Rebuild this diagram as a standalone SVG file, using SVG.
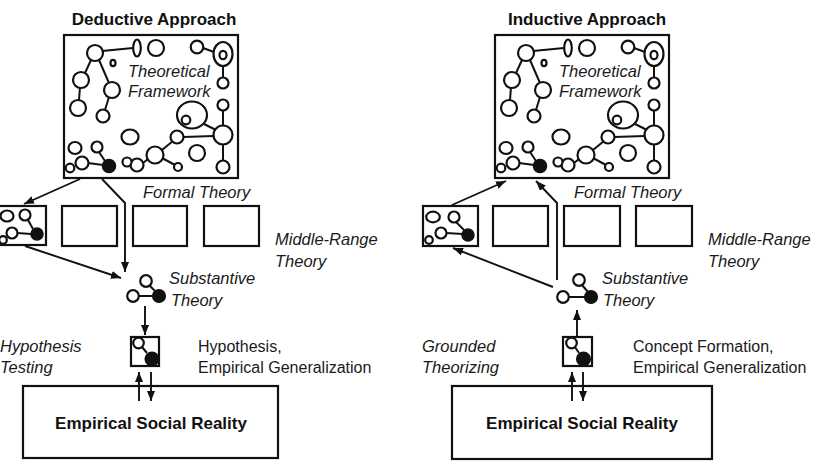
<svg xmlns="http://www.w3.org/2000/svg" xmlns:xlink="http://www.w3.org/1999/xlink" width="825" height="476" viewBox="0 0 825 476">
<style>
.bx{fill:#fff;stroke:#111;stroke-width:2.2}
.c{fill:#fff;stroke:#111;stroke-width:2.2}
.f{fill:#111;stroke:#111;stroke-width:1.5}
.ln{fill:none;stroke:#111;stroke-width:2}
.ar{fill:none;stroke:#111;stroke-width:1.9;marker-end:url(#ah)}
.ti{font-family:"Liberation Sans",Arial,sans-serif;font-weight:bold;font-size:17px;fill:#111;text-anchor:middle}
.it{font-family:"Liberation Sans",Arial,sans-serif;font-style:italic;font-size:16.5px;fill:#1a1a1a}
.nm{font-family:"Liberation Sans",Arial,sans-serif;font-size:16px;fill:#1a1a1a}
.bd{font-family:"Liberation Sans",Arial,sans-serif;font-weight:bold;font-size:17px;fill:#111;text-anchor:middle}
</style>
<defs>
<marker id="ah" markerUnits="userSpaceOnUse" markerWidth="12" markerHeight="10" refX="10" refY="4" orient="auto">
<path d="M0,0 L10,4 L0,8 Z" fill="#111"/>
</marker>
<g id="fw">
<rect class="bx" x="64" y="35" width="174" height="143"/>
<g class="ln">
<line x1="102" y1="51" x2="133" y2="48"/>
<line x1="203" y1="48" x2="214" y2="52"/>
<line x1="91" y1="60" x2="85" y2="73"/>
<line x1="99" y1="60" x2="109" y2="83"/>
<line x1="80" y1="87" x2="79" y2="100"/>
<line x1="109" y1="97" x2="105" y2="110"/>
<line x1="223" y1="66" x2="223" y2="78"/>
<line x1="223" y1="110" x2="223" y2="126"/>
<line x1="204" y1="124" x2="216" y2="130"/>
<line x1="183" y1="137" x2="214" y2="136"/>
<line x1="223" y1="144" x2="223" y2="161"/>
<line x1="162" y1="150" x2="173" y2="141"/>
<line x1="162" y1="158" x2="175" y2="165"/>
<line x1="143" y1="163" x2="148" y2="159"/>
<line x1="88" y1="163" x2="103" y2="165"/>
<line x1="99" y1="152" x2="105" y2="161"/>
</g>
<circle class="c" cx="95" cy="53" r="8"/>
<ellipse class="c" cx="137" cy="48" rx="3.8" ry="8.5"/>
<circle class="c" cx="156" cy="48" r="8"/>
<ellipse class="c" cx="113" cy="63" rx="2.5" ry="3.2"/>
<circle class="c" cx="197" cy="47" r="6.3"/>
<ellipse class="c" cx="223" cy="54" rx="9.5" ry="12"/>
<ellipse class="c" cx="223" cy="55" rx="3.5" ry="4.2"/>
<circle class="c" cx="81" cy="80" r="8"/>
<circle class="c" cx="112" cy="90" r="8"/>
<circle class="c" cx="78" cy="108" r="8"/>
<circle class="c" cx="103" cy="116" r="6.5"/>
<circle class="c" cx="223" cy="83" r="5.5"/>
<circle class="c" cx="223" cy="105" r="5.5"/>
<ellipse class="c" cx="192" cy="115" rx="15" ry="13.5"/>
<circle class="c" cx="186" cy="120" r="4.3"/>
<circle class="c" cx="223" cy="135" r="9.5"/>
<circle class="c" cx="177" cy="137" r="6.5"/>
<circle class="c" cx="223" cy="167" r="6.5"/>
<circle class="c" cx="197" cy="153" r="8"/>
<ellipse class="c" cx="130" cy="137" rx="8.5" ry="7.5"/>
<circle class="c" cx="155" cy="155" r="8.5"/>
<circle class="c" cx="178" cy="167" r="4"/>
<circle class="c" cx="137" cy="165" r="6.5"/>
<circle class="c" cx="127" cy="162" r="4.5"/>
<ellipse class="c" cx="75" cy="148" rx="6.5" ry="6"/>
<circle class="c" cx="97" cy="147" r="5.5"/>
<circle class="c" cx="82" cy="163" r="6.5"/>
<circle class="c" cx="70" cy="168" r="4.3"/>
<circle class="f" cx="109" cy="166" r="6.5"/>
<text class="it" x="128" y="77">Theoretical</text>
<text class="it" x="128" y="97">Framework</text>
</g>
</defs>

<!-- LEFT PANEL: Deductive -->
<text class="ti" x="154" y="25">Deductive Approach</text>
<g id="d-framework"><use xlink:href="#fw"/></g>

<g id="d-mid1">
<rect class="bx" x="-9" y="206" width="55" height="39"/>
<line class="ln" x1="17" y1="233" x2="31" y2="234"/>
<line class="ln" x1="28" y1="220" x2="33" y2="229"/>
<ellipse class="c" cx="7" cy="216" rx="6.5" ry="5.5"/>
<circle class="c" cx="25" cy="215" r="5.5"/>
<circle class="c" cx="12" cy="233" r="5.5"/>
<circle class="c" cx="3" cy="240" r="3.8"/>
<circle class="f" cx="37" cy="234" r="6"/>
</g>
<g id="d-mid2"><rect class="bx" x="62" y="206" width="55" height="40"/></g>
<g id="d-mid3"><rect class="bx" x="133" y="206" width="54" height="40"/></g>
<g id="d-mid4"><rect class="bx" x="204" y="206" width="55" height="40"/></g>
<text class="it" x="143" y="198">Formal Theory</text>
<text class="it" x="275" y="245">Middle-Range</text>
<text class="it" x="275" y="267">Theory</text>

<g id="d-substantive">
<line class="ln" x1="138" y1="296" x2="152" y2="296"/>
<line class="ln" x1="149" y1="285" x2="155" y2="291"/>
<circle class="c" cx="146" cy="281" r="5.8"/>
<circle class="c" cx="133" cy="296" r="5.8"/>
<circle class="f" cx="159" cy="296" r="6.3"/>
<text class="it" x="169" y="284">Substantive</text>
<text class="it" x="171" y="306">Theory</text>
</g>

<g id="d-hypothesis">
<rect class="bx" x="131" y="337" width="28" height="29"/>
<line class="ln" x1="142" y1="347" x2="147" y2="353"/>
<circle class="c" cx="138.5" cy="343" r="5.3"/>
<circle class="f" cx="152" cy="359" r="6.8"/>
</g>
<text class="it" x="0" y="352">Hypothesis</text>
<text class="it" x="0" y="373">Testing</text>
<text class="nm" x="198" y="352">Hypothesis,</text>
<text class="nm" x="198" y="373">Empirical Generalization</text>

<g id="d-reality">
<rect class="bx" x="23" y="386" width="255" height="72"/>
<text class="bd" x="151" y="429">Empirical Social Reality</text>
</g>

<g id="d-connectors">
<line class="ar" x1="80" y1="179" x2="24" y2="204"/>
<polyline class="ar" points="102,179 125,203 125,272"/>
<line class="ar" x1="25" y1="246" x2="121" y2="278"/>
<line class="ar" x1="145" y1="306" x2="145" y2="335"/>
<line class="ar" x1="139" y1="401" x2="139" y2="372"/>
<line class="ar" x1="151" y1="372" x2="151" y2="401"/>
</g>

<!-- RIGHT PANEL: Inductive -->
<text class="ti" x="587" y="25">Inductive Approach</text>
<g id="i-framework"><use xlink:href="#fw" transform="translate(431,0)"/></g>

<g id="i-mid1">
<rect class="bx" x="423" y="206" width="55" height="40"/>
<line class="ln" x1="446" y1="233" x2="463" y2="234"/>
<line class="ln" x1="456" y1="222" x2="464" y2="230"/>
<ellipse class="c" cx="433" cy="217" rx="6.8" ry="5.3"/>
<circle class="c" cx="454" cy="217" r="5.5"/>
<circle class="c" cx="441" cy="233" r="5.5"/>
<circle class="c" cx="429" cy="240" r="3.8"/>
<circle class="f" cx="468" cy="235" r="6"/>
</g>
<g id="i-mid2"><rect class="bx" x="493" y="206" width="55" height="40"/></g>
<g id="i-mid3"><rect class="bx" x="564" y="206" width="56" height="40"/></g>
<g id="i-mid4"><rect class="bx" x="636" y="206" width="56" height="40"/></g>
<text class="it" x="574" y="198">Formal Theory</text>
<text class="it" x="708" y="245">Middle-Range</text>
<text class="it" x="708" y="267">Theory</text>

<g id="i-substantive">
<line class="ln" x1="568" y1="297" x2="585" y2="297"/>
<line class="ln" x1="582" y1="285" x2="588" y2="292"/>
<circle class="c" cx="579" cy="280" r="5.8"/>
<circle class="c" cx="563" cy="297" r="5.8"/>
<circle class="f" cx="591" cy="297" r="6.3"/>
<text class="it" x="602" y="284">Substantive</text>
<text class="it" x="603" y="306">Theory</text>
</g>

<g id="i-hypothesis">
<rect class="bx" x="563" y="337" width="29" height="29"/>
<line class="ln" x1="575" y1="347" x2="579" y2="353"/>
<circle class="c" cx="571.5" cy="343" r="5.3"/>
<circle class="f" cx="583.5" cy="359" r="6.8"/>
</g>
<text class="it" x="422" y="352">Grounded</text>
<text class="it" x="422" y="373">Theorizing</text>
<text class="nm" x="633" y="352">Concept Formation,</text>
<text class="nm" x="633" y="373">Empirical Generalization</text>

<g id="i-reality">
<rect class="bx" x="452" y="386" width="260" height="73"/>
<text class="bd" x="582" y="429">Empirical Social Reality</text>
</g>

<g id="i-connectors">
<line class="ar" x1="452" y1="205" x2="506" y2="181"/>
<polyline class="ar" points="557,280 557,203 536,181"/>
<line class="ar" x1="553" y1="287" x2="453" y2="248"/>
<line class="ar" x1="577" y1="337" x2="577" y2="310"/>
<line class="ar" x1="572" y1="401" x2="572" y2="372"/>
<line class="ar" x1="583" y1="372" x2="583" y2="401"/>
</g>
</svg>
